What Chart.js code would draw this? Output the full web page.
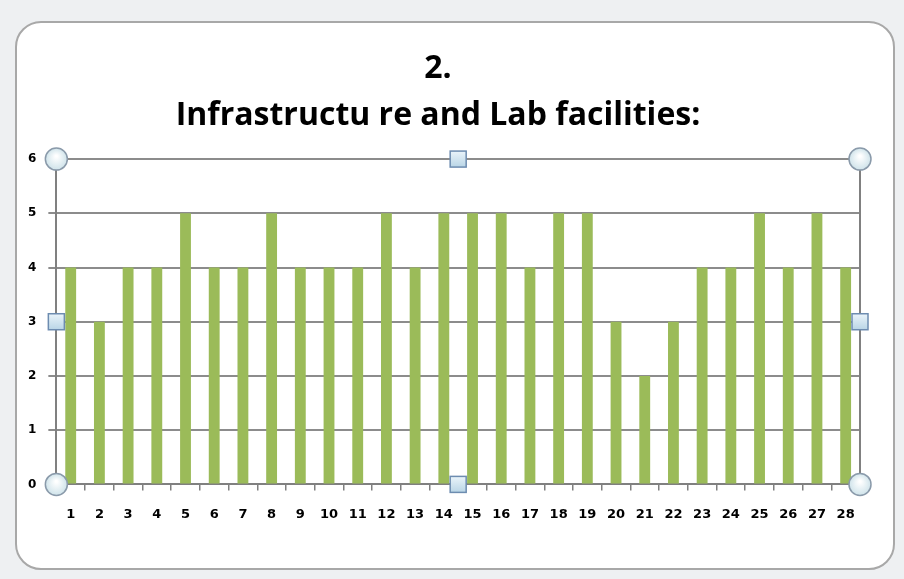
<!DOCTYPE html>
<html>
<head>
<meta charset="utf-8">
<script src="https://cdn.jsdelivr.net/npm/chart.js@4"></script>
<style>
  html, body { margin: 0; padding: 0; }
  body {
    width: 904px; height: 579px; overflow: hidden; position: relative;
    background: #eef0f2;
  }
  .frame {
    position: absolute; left: 15px; top: 21px; width: 876px; height: 545px;
    background: #fff; border: 2px solid #a8a8a8; border-radius: 26px;
  }
  canvas { position: absolute; left: 0; top: 0; }
</style>
</head>
<body>
<div class="frame"></div>
<canvas id="chart" width="904" height="579"></canvas>
<script>
const categories = ['1', '2', '3', '4', '5', '6', '7', '8', '9', '10', '11', '12', '13', '14',
  '15', '16', '17', '18', '19', '20', '21', '22', '23', '24', '25', '26', '27', '28'];
const ratings = [4, 3, 4, 4, 5, 4, 4, 5, 4, 4, 4, 5, 4, 5, 5, 5, 4, 5, 5, 3, 2, 3, 4, 4, 5, 4, 5, 4];
const titleLines = ['2.', 'Infrastructu re and Lab facilities:'];

// plot area outline and selection handles, as in the Excel screenshot
const selectionPlugin = {
  id: 'selection',
  afterDraw(chart) {
    const { ctx, chartArea: a } = chart;
    ctx.save();
    ctx.strokeStyle = '#808080';
    ctx.lineWidth = 2;
    ctx.beginPath();
    ctx.moveTo(a.right, a.top);
    ctx.lineTo(a.right, a.bottom);
    ctx.stroke();

    const midX = (a.left + a.right) / 2;
    const midY = (a.top + a.bottom) / 2;
    const circles = [[a.left, a.top], [a.right, a.top], [a.left, a.bottom], [a.right, a.bottom]];
    const squares = [[midX, a.top], [midX, a.bottom], [a.left, midY], [a.right, midY]];
    ctx.lineWidth = 1.5;
    ctx.strokeStyle = '#8a9aaa';
    circles.forEach(([x, y]) => {
      const g = ctx.createRadialGradient(x, y - 3, 1, x, y, 11);
      g.addColorStop(0, '#ffffff');
      g.addColorStop(1, '#cfe3ea');
      ctx.fillStyle = g;
      ctx.beginPath();
      ctx.arc(x, y, 11, 0, Math.PI * 2);
      ctx.fill();
      ctx.stroke();
    });
    ctx.strokeStyle = '#6d8cb0';
    squares.forEach(([x, y]) => {
      const g = ctx.createLinearGradient(x, y - 8, x, y + 8);
      g.addColorStop(0, '#eaf4fa');
      g.addColorStop(1, '#b9d5e6');
      ctx.fillStyle = g;
      ctx.fillRect(x - 8, y - 8, 16, 16);
      ctx.strokeRect(x - 8, y - 8, 16, 16);
    });
    ctx.restore();
  },
};

new Chart(document.getElementById('chart'), {
  type: 'bar',
  data: {
    labels: categories,
    datasets: [{
      data: ratings,
      backgroundColor: '#9bbb59',
      barPercentage: 0.42,
      categoryPercentage: 0.9,
    }],
  },
  options: {
    responsive: false,
    animation: false,
    layout: { padding: { left: 16, right: 44, top: 45, bottom: 41 } },
    plugins: {
      legend: { display: false },
      tooltip: { enabled: false },
      title: {
        display: true,
        text: titleLines,
        color: '#000',
        font: { family: 'Open Sans', size: 32, weight: 'bold', lineHeight: 1.47 },
        padding: { top: 0, bottom: 20 },
      },
    },
    scales: {
      x: {
        grid: { drawOnChartArea: false, color: '#808080', tickLength: 6, lineWidth: 1.5 },
        border: { color: '#808080', width: 2 },
        ticks: { color: '#000', font: { family: 'DejaVu Sans', size: 13, weight: 'bold' }, maxRotation: 0, autoSkip: false, padding: 16 },
      },
      y: {
        min: 0,
        max: 6,
        ticks: { stepSize: 1, color: '#000', font: { family: 'DejaVu Sans', size: 12, weight: 'bold' }, padding: 12 },
        grid: { color: '#8c8c8c', lineWidth: 2, tickLength: 8 },
        border: { color: '#808080', width: 2 },
      },
    },
  },
  plugins: [selectionPlugin],
});
</script>
</body>
</html>
